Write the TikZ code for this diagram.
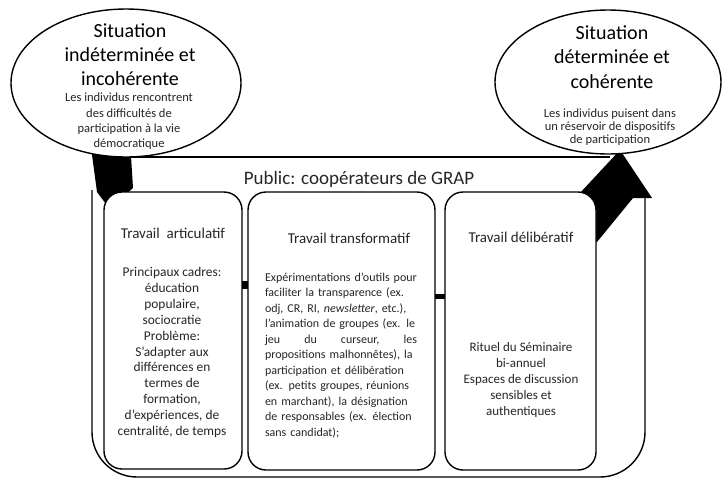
\documentclass[tikz,border=0pt]{standalone}
\usepackage{fontspec}
\setmainfont{Carlito}
\usetikzlibrary{shapes.geometric}
\begin{document}
\begin{tikzpicture}[x=1pt,y=-1pt,
  every node/.style={inner sep=0pt, outer sep=0pt},
  boxshape/.style={draw, line width=1.4pt, rounded corners=18pt, fill=white},
  ell/.style={ellipse, draw, line width=1.4pt, fill=white},
  bandline/.style={line width=1.4pt},
  blk/.style={fill=black},
  bigtxt/.style={font=\fontsize{20}{24}\selectfont, align=center},
  smalltxt/.style={font=\fontsize{12.5}{15.3}\selectfont, align=center, text=black!85},
  ttl/.style={font=\fontsize{15}{18}\selectfont, text=black!85},
  bodyA/.style={font=\fontsize{13.4}{15.9}\selectfont, align=center, text=black!85},
  bodyB/.style={font=\fontsize{12}{15.5}\selectfont, align=left, text width=152pt, text=black!85},
  bodyC/.style={font=\fontsize{13}{16}\selectfont, align=center, text=black!85},
]
\useasboundingbox (0,0) rectangle (723,480);

% outer U-shaped band
\draw[bandline, rounded corners=45pt] (92,190) -- (92,477) -- (645,477) -- (645,190);
\draw[bandline] (120,157) -- (610,157);

% black tail (left) and arrowhead (right)
\fill[blk] (90,140) -- (130,140) -- (133,188) .. controls (125,196) and (115,200) .. (106,204) -- (97,192) -- cycle;
\fill[blk] (620,150) -- (652,198) -- (633,198) -- (597,242) -- (570,242) -- (575,195) -- (580,193) -- cycle;

% boxes
\node[boxshape, minimum width=138pt, minimum height=277pt] (b1) at (173,330.5) {};
\node[boxshape, minimum width=187pt, minimum height=278pt] (b2) at (341.5,331) {};
\node[boxshape, minimum width=151pt, minimum height=278pt] (b3) at (520.5,331) {};

% short links between boxes
\draw[line width=8pt] (b1.east |- 0,285) -- (b2.west |- 0,285);
\draw[line width=5pt] (b2.east |- 0,296) -- (b3.west |- 0,296);

% ellipses
\node[ell, minimum width=230pt, minimum height=148pt] (e1) at (126,83) {};
\node[ell, minimum width=226pt, minimum height=144pt] (e2) at (608,82) {};

% ellipse texts
\node[bigtxt] (t1) at (130,55) {Situation\\indéterminée et\\incohérente};
\node[smalltxt] (s1) at (129,121.5) {Les individus rencontrent\\des difficultés de\\participation à la vie\\démocratique};
\node[bigtxt, font=\fontsize{20}{24.5}\selectfont] (t2) at (612,57) {Situation\\déterminée et\\cohérente};
\node[smalltxt, font=\fontsize{12.5}{13}\selectfont] (s2) at (610,127) {Les individus puisent dans\\un réservoir de dispositifs\\de participation};

% public
\node[font=\fontsize{19}{22}\selectfont, text=black!85] (pub) at (359,179) {Public: coopérateurs de GRAP};

% titles
\node[ttl] (h1) at (173,233) {Travail\ \ articulatif};
\node[ttl] (h2) at (349,238) {Travail transformatif};
\node[ttl] (h3) at (521,237) {Travail délibératif};

% bodies
\node[bodyA] (p1) at (172,352.5) {Principaux cadres:\\éducation\\populaire,\\sociocratie\\Problème:\\S'adapter aux\\différences en\\termes de\\formation,\\d'expériences, de\\centralité, de temps};
\node[bodyB] (p2) at (341,355.5) {%
\makebox[152pt][s]{Expérimentations d'outils pour}\\
\makebox[152pt][s]{faciliter la transparence (ex.}\\
\makebox[152pt][s]{odj, CR, RI, \textit{newsletter}, etc.),}\\
\makebox[152pt][s]{l'animation de groupes (ex. le}\\
\makebox[152pt][l]{jeu\hfill du\hfill curseur,\hfill les}\\
\makebox[152pt][s]{propositions malhonnêtes), la}\\
\makebox[152pt][s]{participation et délibération}\\
\makebox[152pt][s]{(ex. petits groupes, réunions}\\
\makebox[152pt][s]{en marchant), la désignation}\\
\makebox[152pt][s]{de responsables (ex. élection}\\
sans candidat);};
\node[bodyC] (p3) at (521,380) {Rituel du Séminaire\\bi-annuel\\Espaces de discussion\\sensibles et\\authentiques};
\end{tikzpicture}
\end{document}
